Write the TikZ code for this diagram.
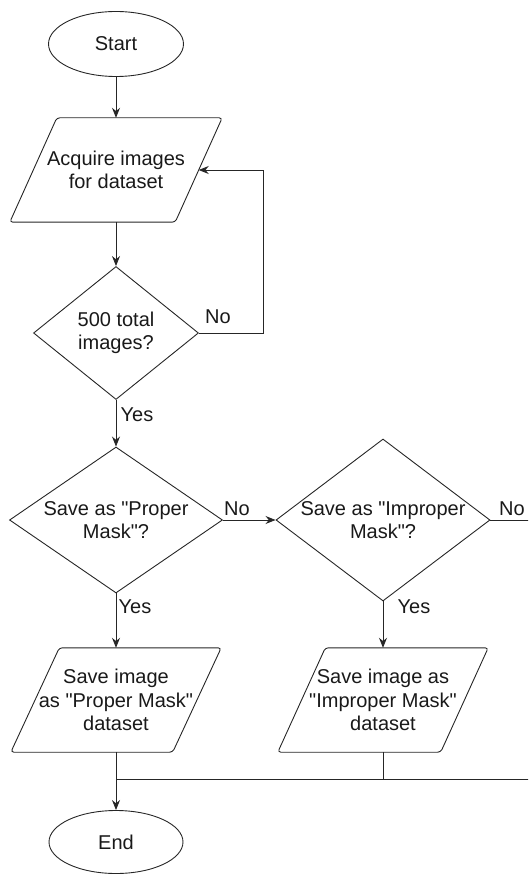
\documentclass[tikz,border=0pt]{standalone}
\usepackage{fontspec}
\setmainfont{Liberation Sans}[Ligatures=TeXOff]
\usetikzlibrary{shapes.geometric,arrows.meta}
\begin{document}
\begin{tikzpicture}[x=1pt,y=-1pt,
  every node/.style={font=\fontsize{20}{23.5}\selectfont, text=black!90},
  line/.style={line width=0.9pt, draw=black!85},
  arr/.style={line, -{Stealth[length=10pt,width=8pt]}},
  term/.style={ellipse, draw=black!85, line width=0.9pt, minimum width=135pt, minimum height=65pt, inner sep=0pt},
  iobox/.style={rectangle, draw=none, align=center, inner sep=0pt, minimum height=104pt},
  dec/.style={diamond, draw=black!85, line width=0.9pt, inner sep=0pt},
  para/.style={line, rounded corners=3pt},
  lbl/.style={inner sep=0pt}]
\useasboundingbox (0,0) rectangle (528,874);
\clip (0,0) rectangle (528,874);

% nodes
\node[term] (start) at (116,44) {Start};
\node[iobox, minimum width=165pt] (acq) at (116,170) {Acquire images\\for dataset};
\draw[para] ([xshift=23.5pt]acq.north west) -- ([xshift=23.5pt]acq.north east) -- ([xshift=-23.5pt]acq.south east) -- ([xshift=-23.5pt]acq.south west) -- cycle;

\node[dec, minimum width=165pt, minimum height=133pt, label={[align=center]center:500 total\\images?}] (d1) at (116,333) {};
\node[dec, minimum width=213pt, minimum height=146pt, label={[align=center]center:Save as "Proper\\Mask"?}] (d2) at (116,520) {};
\node[dec, minimum width=214pt, minimum height=162pt, label={[align=center]center:Save as "Improper\\Mask"?}] (d3) at (383,520) {};

\node[iobox, minimum width=161.5pt] (p2) at (116,700) {Save image\\as "Proper Mask"\\dataset};
\draw[para] ([xshift=24.25pt]p2.north west) -- ([xshift=24.25pt]p2.north east) -- ([xshift=-24.25pt]p2.south east) -- ([xshift=-24.25pt]p2.south west) -- cycle;
\node[iobox, minimum width=162.5pt] (p3) at (383,700) {Save image as\\"Improper Mask"\\dataset};
\draw[para] ([xshift=23.75pt]p3.north west) -- ([xshift=23.75pt]p3.north east) -- ([xshift=-23.75pt]p3.south east) -- ([xshift=-23.75pt]p3.south west) -- cycle;

\node[term, minimum width=134pt, minimum height=63pt] (end) at (116,842) {End};

% coordinates
\coordinate (loopc) at (263,333);
\coordinate (j) at (116,779);
\coordinate (offR) at (545,520);

% connectors
\draw[arr] (start.south) -- (acq.north);
\draw[arr] (acq.south) -- (d1.north);
\draw[arr] (d1.east) -- (loopc) |- (acq.east);
\draw[arr] (d1.south) -- (d2.north);
\draw[arr] (d2.east) -- (d3.west);
\draw[arr] (d2.south) -- (p2.north);
\draw[arr] (d3.south) -- (p3.north);
\draw[line] (d3.east) -- (offR) |- (j);
\draw[line] (p3.south) |- (j);
\draw[arr] (p2.south) -- (end.north);

% labels
\node[lbl] (no1) at (218,317) {No};
\node[lbl] (yes1) at (137,415) {Yes};
\node[lbl] (no2) at (237,509) {No};
\node[lbl] (yes2) at (135,607) {Yes};
\node[lbl] (no3) at (512,509) {No};
\node[lbl] (yes3) at (414,607) {Yes};
\end{tikzpicture}
\end{document}
